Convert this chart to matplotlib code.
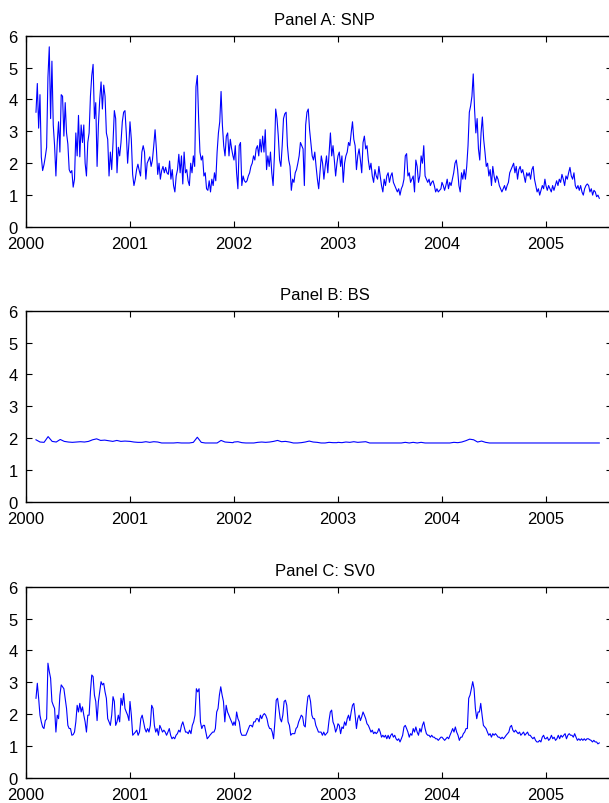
import matplotlib
matplotlib.use("Agg")
import matplotlib.pyplot as plt
import numpy as np


# first and last observation dates (decimal years)
FIRST_OBS = 2000.096
LAST_OBS = 2005.513
YEARS = [2000, 2001, 2002, 2003, 2004, 2005]

# Panel A: SNP, one list per calendar year
SNP_2000 = [3.6, 4.5, 3.1, 4.15, 2.2, 1.77, 1.95, 2.2, 2.5, 4.7,
            5.65, 3.4, 5.2, 3.2, 2.55, 1.6, 2.65, 3.3, 2.35, 4.15,
            4.1, 2.85, 3.9, 2.95, 2.6, 1.8, 1.7, 1.77, 1.25, 1.5,
            2.95, 2.23, 3.5, 2.2, 3.2, 2.65, 3.2, 2.0, 1.6, 2.65,
            2.95, 4.1, 4.75, 5.1, 3.4, 3.9, 1.9, 3.2, 4.0, 4.55,
            3.7, 4.45, 4.1, 2.95, 2.75, 1.6, 2.35, 1.8, 2.65, 3.65,
            3.4, 1.7, 2.5, 2.23, 2.65, 3.3, 3.6, 3.65, 2.95, 2.0,
            2.65]
SNP_2001 = [3.3, 2.75, 1.65, 1.3, 1.5, 1.8, 1.97, 1.77, 1.6, 2.35,
            2.55, 2.35, 1.5, 2.0, 2.1, 2.2, 1.9, 2.1, 2.55, 3.05,
            2.45, 1.65, 2.0, 1.5, 1.77, 1.9, 1.7, 1.87, 1.7, 1.65,
            2.07, 1.5, 1.8, 1.3, 1.1, 1.6, 1.8, 2.28, 1.7, 2.23,
            1.35, 2.35, 1.7, 1.8, 1.45, 1.3, 2.0, 1.7, 2.23, 1.9,
            4.4, 4.75, 3.4, 2.35, 2.1, 2.23, 1.6, 1.7, 1.2, 1.15,
            1.45, 1.1, 1.5, 1.3, 1.7, 1.45, 2.35, 2.95, 3.3, 4.25,
            3.2, 2.55, 2.23, 2.85, 2.95, 2.23, 2.75, 2.45, 2.23]
SNP_2002 = [2.1, 2.55, 1.7, 1.2, 2.55, 2.65, 1.3, 1.6, 1.45, 1.4,
            1.45, 1.6, 1.7, 1.9, 2.0, 2.23, 2.1, 2.45, 2.55, 2.23,
            2.75, 2.35, 2.85, 2.35, 3.05, 1.8, 2.23, 1.9, 2.35, 1.7,
            1.3, 2.23, 3.7, 3.4, 2.85, 2.1, 1.9, 2.55, 3.4, 3.55,
            3.6, 2.55, 2.1, 1.9, 1.15, 1.5, 1.4, 1.7, 1.8, 2.0,
            2.23, 2.65, 2.55, 2.45, 1.3, 3.2, 3.6, 3.7, 3.05, 2.65,
            2.23, 2.1, 2.35, 1.9, 1.5, 1.2, 1.7, 2.23, 2.0, 1.5,
            1.9, 2.23, 1.7, 2.35, 2.95, 2.23, 2.55, 2.1, 1.6, 2.0]
SNP_2003 = [2.23, 2.35, 1.9, 2.23, 1.4, 2.0, 2.23, 2.35, 2.65, 2.55,
            2.95, 3.3, 2.75, 2.55, 1.8, 2.23, 2.45, 2.1, 1.7, 2.65,
            2.85, 2.45, 2.55, 2.1, 1.8, 2.0, 1.6, 1.4, 1.8, 1.6,
            1.5, 1.9, 1.6, 1.3, 1.1, 1.5, 1.3, 1.6, 1.7, 1.4,
            1.6, 1.7, 1.4, 1.3, 1.2, 1.1, 1.2, 1.0, 1.2, 1.3,
            1.5, 2.23, 2.3, 1.6, 1.7, 1.4, 1.5, 1.6, 1.1, 2.1,
            1.9, 1.4, 1.6, 2.23, 2.0, 2.55, 1.6, 1.5, 1.4, 1.5,
            1.3, 1.4, 1.45, 1.3, 1.1, 1.2, 1.1, 1.15, 1.2]
SNP_2004 = [1.4, 1.3, 1.15, 1.3, 1.5, 1.2, 1.4, 1.3, 1.5, 1.7,
            2.0, 2.1, 1.8, 1.3, 1.1, 1.7, 1.5, 1.8, 1.5, 1.9,
            2.55, 3.6, 3.8, 4.1, 4.8, 3.7, 2.95, 3.4, 2.45, 2.1,
            2.95, 3.45, 2.75, 2.35, 1.9, 2.0, 1.6, 1.8, 1.3, 1.9,
            1.6, 1.4, 1.6, 1.5, 1.3, 1.2, 1.1, 1.2, 1.3, 1.15,
            1.3, 1.4, 1.7, 1.8, 1.9, 2.0, 1.7, 1.9, 1.5, 1.8,
            1.9, 1.7, 1.8, 1.6, 1.4, 1.7, 1.6, 1.7, 1.5, 1.8,
            1.9, 1.5, 1.3, 1.1, 1.2, 1.0, 1.15, 1.3, 1.2, 1.5]
SNP_2005 = [1.3, 1.15, 1.3, 1.2, 1.1, 1.3, 1.15, 1.3, 1.45, 1.3,
            1.5, 1.4, 1.65, 1.5, 1.3, 1.6, 1.5, 1.7, 1.87, 1.6,
            1.5, 1.7, 1.3, 1.2, 1.3, 1.15, 1.3, 1.1, 1.0, 1.2,
            1.3, 1.35, 1.3, 1.1, 1.2, 1.0, 1.15, 1.1, 0.95, 1.0,
            0.9]

# Panel B: BS
BS_2000 = [1.95, 1.88, 1.87, 2.05, 1.9, 1.88, 1.96, 1.9, 1.88, 1.87,
           1.88, 1.89, 1.88, 1.9, 1.95, 1.98, 1.93, 1.94, 1.92, 1.9,
           1.93, 1.9, 1.91, 1.9]
BS_2001 = [1.9, 1.88, 1.87, 1.87, 1.89, 1.87, 1.89, 1.88, 1.85, 1.85,
           1.85, 1.85, 1.86, 1.85, 1.85, 1.85, 1.87, 2.03, 1.87, 1.85,
           1.85, 1.85, 1.85, 1.93, 1.88, 1.87, 1.86]
BS_2002 = [1.88, 1.89, 1.86, 1.85, 1.85, 1.85, 1.87, 1.88, 1.87, 1.88,
           1.9, 1.93, 1.89, 1.9, 1.88, 1.85, 1.85, 1.86, 1.88, 1.91,
           1.88, 1.87, 1.85, 1.85, 1.87, 1.86, 1.86]
BS_2003 = [1.87, 1.86, 1.88, 1.87, 1.89, 1.87, 1.88, 1.89, 1.85, 1.85,
           1.85, 1.85, 1.85, 1.85, 1.85, 1.85, 1.85, 1.87, 1.85, 1.87,
           1.85, 1.87, 1.85, 1.85, 1.85, 1.85, 1.85]
BS_2004 = [1.85, 1.85, 1.85, 1.87, 1.86, 1.88, 1.92, 1.97, 1.95, 1.88,
           1.91, 1.87, 1.85, 1.85, 1.85, 1.85, 1.85, 1.85, 1.85, 1.85,
           1.85, 1.85, 1.85, 1.85, 1.85, 1.85, 1.85]
BS_2005 = [1.85, 1.85, 1.85, 1.85, 1.85, 1.85, 1.85, 1.85, 1.85, 1.85,
           1.85, 1.85, 1.85, 1.85]

# Panel C: SV0
SV0_2000 = [2.5, 2.97, 2.5, 1.97, 1.76, 1.6, 1.55, 1.8, 1.85, 3.6,
            3.34, 3.13, 2.4, 2.28, 2.18, 1.44, 1.97, 1.86, 2.6, 2.92,
            2.86, 2.8, 2.5, 2.18, 1.65, 1.55, 1.55, 1.34, 1.36, 1.44,
            1.76, 2.28, 2.07, 2.34, 2.07, 2.23, 1.97, 1.76, 1.44, 1.97,
            1.97, 2.7, 3.23, 3.18, 2.6, 2.4, 1.8, 2.4, 2.7, 3.02,
            2.92, 2.97, 2.7, 2.5, 1.86, 1.76, 1.65, 1.97, 2.55, 2.4,
            1.65, 1.76, 1.97, 1.76, 2.5, 2.28, 2.65, 2.18, 2.07, 1.97,
            1.8]
SV0_2001 = [2.4, 1.97, 1.34, 1.39, 1.44, 1.5, 1.34, 1.44, 1.86, 1.97,
            1.76, 1.55, 1.44, 1.55, 1.44, 1.65, 2.28, 2.18, 1.65, 1.44,
            1.55, 1.34, 1.65, 1.55, 1.44, 1.5, 1.44, 1.34, 1.44, 1.55,
            1.34, 1.23, 1.28, 1.23, 1.34, 1.39, 1.5, 1.44, 1.65, 1.76,
            1.6, 1.44, 1.44, 1.39, 1.5, 1.39, 1.65, 1.76, 1.97, 2.8,
            2.7, 2.8, 1.76, 1.55, 1.65, 1.65, 1.44, 1.23, 1.28, 1.34,
            1.39, 1.44, 1.44, 1.55, 2.07, 2.18, 2.6, 2.86, 2.6, 2.4,
            1.76, 2.28, 2.07, 1.97, 1.86, 1.76, 1.65]
SV0_2002 = [1.76, 1.65, 2.07, 1.86, 1.76, 1.44, 1.34, 1.34, 1.34, 1.34,
            1.44, 1.55, 1.65, 1.65, 1.6, 1.76, 1.76, 1.86, 1.86, 1.76,
            1.97, 1.86, 1.97, 2.02, 1.97, 1.86, 1.65, 1.55, 1.55, 1.44,
            1.23, 1.76, 2.44, 2.5, 2.18, 1.86, 1.76, 1.97, 2.4, 2.44,
            2.28, 1.76, 1.65, 1.34, 1.39, 1.39, 1.39, 1.55, 1.6, 1.76,
            1.86, 1.97, 1.92, 1.65, 1.6, 2.18, 2.55, 2.6, 2.4, 1.97,
            1.86, 1.86, 1.65, 1.55, 1.44, 1.44, 1.44, 1.34, 1.44, 1.34,
            1.39, 1.44, 1.8, 2.07, 2.13, 1.76, 1.65, 1.44, 1.55]
SV0_2003 = [1.7, 1.65, 1.39, 1.6, 1.55, 1.76, 1.65, 1.86, 1.97, 1.8,
            2.07, 2.28, 2.34, 1.97, 1.55, 1.86, 1.97, 1.8, 1.92, 2.07,
            1.97, 1.86, 1.7, 1.65, 1.55, 1.44, 1.5, 1.39, 1.44, 1.39,
            1.44, 1.55, 1.44, 1.28, 1.34, 1.28, 1.34, 1.23, 1.34, 1.23,
            1.34, 1.39, 1.28, 1.34, 1.23, 1.18, 1.23, 1.13, 1.23, 1.34,
            1.6, 1.65, 1.55, 1.44, 1.28, 1.39, 1.34, 1.55, 1.44, 1.6,
            1.44, 1.34, 1.55, 1.44, 1.65, 1.76, 1.55, 1.39, 1.34, 1.34,
            1.28, 1.34, 1.28, 1.28, 1.23, 1.23, 1.18, 1.23, 1.28]
SV0_2004 = [1.28, 1.23, 1.18, 1.23, 1.28, 1.23, 1.34, 1.44, 1.55, 1.44,
            1.6, 1.44, 1.34, 1.18, 1.28, 1.28, 1.39, 1.44, 1.55, 1.55,
            2.5, 2.6, 2.8, 3.02, 2.8, 2.18, 1.86, 2.07, 2.07, 2.34,
            1.97, 1.65, 1.6, 1.55, 1.44, 1.34, 1.39, 1.28, 1.39, 1.34,
            1.39, 1.34, 1.28, 1.28, 1.23, 1.28, 1.23, 1.28, 1.34, 1.39,
            1.44, 1.6, 1.65, 1.5, 1.44, 1.5, 1.44, 1.39, 1.44, 1.34,
            1.39, 1.44, 1.34, 1.39, 1.44, 1.34, 1.34, 1.28, 1.23, 1.28,
            1.18, 1.13, 1.13, 1.18, 1.13, 1.28, 1.34, 1.23]
SV0_2005 = [1.23, 1.28, 1.18, 1.23, 1.34, 1.23, 1.28, 1.18, 1.23, 1.34,
            1.23, 1.34, 1.28, 1.34, 1.39, 1.23, 1.34, 1.39, 1.34, 1.34,
            1.28, 1.39, 1.28, 1.18, 1.23, 1.18, 1.23, 1.18, 1.23, 1.18,
            1.23, 1.23, 1.2, 1.18, 1.13, 1.18, 1.13, 1.13, 1.07, 1.1]

PANELS = [
    ("Panel A: SNP", [SNP_2000, SNP_2001, SNP_2002, SNP_2003, SNP_2004, SNP_2005]),
    ("Panel B: BS", [BS_2000, BS_2001, BS_2002, BS_2003, BS_2004, BS_2005]),
    ("Panel C: SV0", [SV0_2000, SV0_2001, SV0_2002, SV0_2003, SV0_2004, SV0_2005]),
]


def year_times(year, n):
    # observations spread evenly through the part of the year that is covered
    lo = max(year, FIRST_OBS)
    hi = min(year + 0.99, LAST_OBS)
    return np.linspace(lo, hi, n)


def join_series(chunks):
    t = np.concatenate([year_times(y, len(v)) for y, v in zip(YEARS, chunks)])
    v = np.concatenate([np.asarray(v, dtype=float) for v in chunks])
    return t, v


def main():
    plt.rcParams["font.family"] = ["Liberation Sans", "DejaVu Sans"]

    fig = plt.figure(figsize=(6.09, 8.04), dpi=100)
    bottoms = [0.7164, 0.3744, 0.0311]

    # the right edge of the box sits just past the figure edge, as in the original
    for (title, chunks), b in zip(PANELS, bottoms):
        ax = fig.add_axes([0.0427, b, 0.9622, 0.238])
        t, v = join_series(chunks)
        ax.plot(t, v, color="#0000ff", linewidth=0.8)

        ax.set_xlim(2000, 2005.635)
        ax.set_ylim(0, 6)
        ax.set_xticks(YEARS)
        ax.set_xticklabels([str(y) for y in YEARS])
        ax.set_yticks(range(7))
        ax.tick_params(direction="in", top=True, right=True, length=4.2,
                       width=0.8, labelsize=12)
        ax.tick_params(axis="x", pad=6.5)
        ax.tick_params(axis="y", pad=6)
        for s in ax.spines.values():
            s.set_linewidth(1.0)
        ax.set_title(title, fontsize=12, pad=8.5, x=0.51)

    fig.savefig("out.png", dpi=100)


if __name__ == "__main__":
    main()
